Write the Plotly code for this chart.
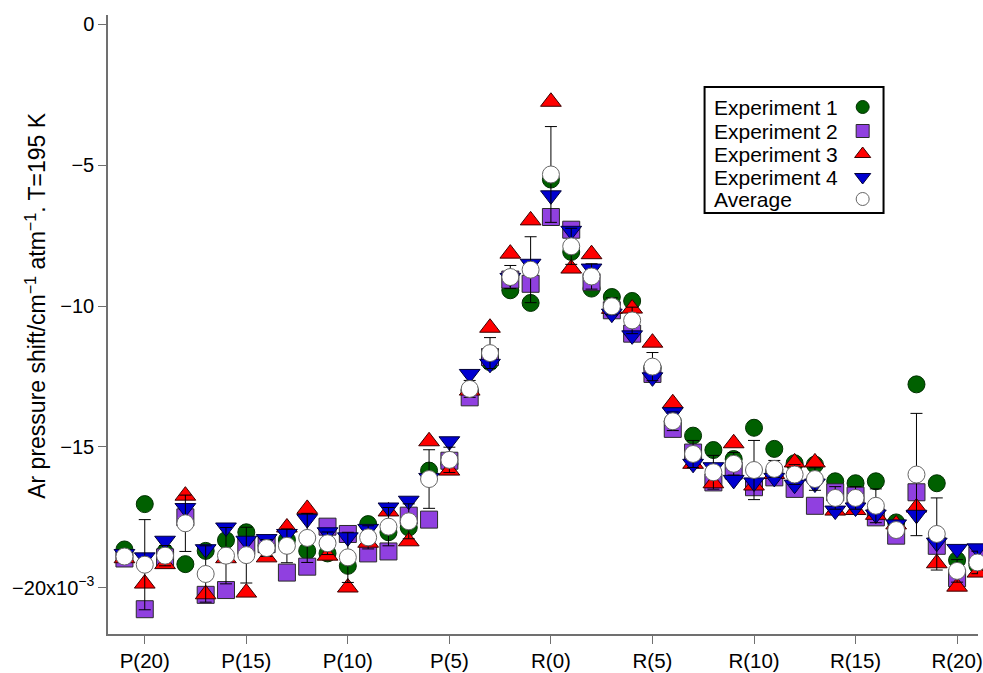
import plotly.graph_objects as go

# ---- data (values in units of 1e-3 cm^-1 atm^-1) ----
branch_labels = [f"P({j})" for j in range(21, 0, -1)] + [f"R({j})" for j in range(0, 22)]

exp1 = [-18.64, -17.03, -18.74, -19.16, -18.69, -18.31, -18.03, -18.50, -18.30, -18.69, -18.78,
        -19.22, -17.74, -18.03, -17.86, -15.84, -15.60, -13.00, -11.99, -9.44, -9.89,
        -5.51, -8.08, -9.38, -9.68, -9.82, -12.20, -14.10, -14.60, -15.11, -15.43, -14.32,
        -15.07, -15.58, -15.63, -16.22, -16.29, -16.22, -17.68, -12.78, -16.29, -19.02, -19.20]
exp2 = [-18.96, -20.76, -18.92, -17.50, -20.25, -20.08, -18.51, -18.45, -19.46, -19.25, -17.83,
        -18.09, -18.78, -18.71, -17.44, -17.58, -15.49, -13.24, -11.81, -9.06, -9.21,
        -6.84, -7.29, -9.15, -10.15, -10.98, -12.41, -14.36, -15.20, -16.26, -15.84, -16.43,
        -16.08, -16.49, -17.09, -16.61, -16.73, -17.50, -18.15, -16.61, -18.51, -19.66, -18.85]
exp3 = [-18.95, -19.85, -19.16, -16.73, -20.23, -18.95, -20.17, -18.92, -17.86, -17.20, -18.86,
        -19.99, -18.40, -17.29, -18.35, -14.80, -15.84, -13.00, -10.77, -8.14, -6.96,
        -2.75, -8.67, -8.16, -10.10, -10.09, -11.30, -13.45, -15.60, -16.29, -14.87, -16.37,
        -15.96, -15.55, -15.55, -17.26, -17.24, -17.41, -17.75, -17.15, -19.13, -19.96, -19.46]
exp4 = [-18.80, -18.92, -18.33, -17.17, -18.63, -17.86, -18.33, -18.27, -18.09, -17.56, -18.03,
        -18.21, -17.91, -17.15, -16.91, -16.10, -14.80, -12.41, -12.05, -9.00, -8.50,
        -6.07, -7.33, -8.67, -10.27, -11.04, -12.53, -13.77, -15.60, -15.72, -16.17, -16.26,
        -16.10, -16.34, -16.30, -17.26, -17.15, -17.40, -17.75, -17.41, -18.40, -18.62, -18.60]
average = [-18.89, -19.18, -18.86, -17.71, -19.51, -18.86, -18.84, -18.59, -18.51, -18.23, -18.42,
           -18.92, -18.21, -17.83, -17.64, -16.14, -15.46, -12.94, -11.67, -8.97, -8.71,
           -5.33, -7.88, -8.95, -10.01, -10.51, -12.15, -14.09, -15.25, -15.90, -15.60, -15.82,
           -15.78, -15.98, -16.14, -16.81, -16.81, -17.09, -17.95, -15.98, -18.09, -19.40, -19.10]
avg_err = [0.20, 1.60, 0.36, 1.00, 1.00, 1.00, 0.99, 0.30, 0.60, 0.87, 0.40,
           0.89, 0.41, 0.68, 0.62, 1.04, 0.45, 0.30, 0.55, 0.41, 1.17,
           1.70, 0.64, 0.45, 0.30, 0.47, 0.50, 0.33, 0.48, 0.60, 0.40, 1.05,
           0.30, 0.35, 0.40, 0.40, 0.40, 0.60, 0.20, 2.17, 1.28, 0.40, 0.40]

tick_branches = ["P(20)", "P(15)", "P(10)", "P(5)", "R(0)", "R(5)", "R(10)", "R(15)", "R(20)"]
y_tick_vals = [0, -5, -10, -15, -20]
y_tick_text = ["0", "\u22125", "\u221210", "\u221215", "\u221220x10<sup>\u22123</sup>"]
series_names = ["Experiment 1", "Experiment 2", "Experiment 3", "Experiment 4", "Average"]


def branch_to_m(lbl):
    j = int(lbl[2:-1])
    return -j if lbl[0] == "P" else j


m = [branch_to_m(b) for b in branch_labels]
tick_m = [branch_to_m(b) for b in tick_branches]

FONT = "Arial, 'Liberation Sans', sans-serif"
styles = [
    dict(symbol="circle", color="#006000", line=dict(color="#003000", width=1)),
    dict(symbol="square", color="#9040e0", line=dict(color="#2a2a2a", width=1)),
    dict(symbol="triangle-up", color="#ff0000", line=dict(color="#3a0000", width=1)),
    dict(symbol="triangle-down", color="#0000d0", line=dict(color="#00003a", width=1)),
    dict(symbol="circle", color="#ffffff", line=dict(color="#666666", width=1)),
]
sizes = [17, 17, 18, 18, 17]

fig = go.Figure()
for name, ys, st, sz in zip(series_names[:4], [exp1, exp2, exp3, exp4], styles[:4], sizes[:4]):
    fig.add_trace(go.Scatter(x=m, y=ys, mode="markers", name=name, cliponaxis=False,
                             marker=dict(size=sz, opacity=1, **st), showlegend=False))
fig.add_trace(go.Scatter(x=m, y=average, mode="markers", name="Average", cliponaxis=False,
                         marker=dict(size=sizes[4], opacity=1, **styles[4]), showlegend=False,
                         error_y=dict(type="data", array=avg_err, visible=True,
                                      color="#000000", thickness=1, width=6)))

# custom legend (text left, symbol right) on an overlay pixel-like axis
leg_rows = [107, 131, 154, 177, 199]
leg_sizes = [13, 13, 14, 14, 13]
for st, yy, sz in zip(styles, leg_rows, leg_sizes):
    fig.add_trace(go.Scatter(x=[867], y=[yy], mode="markers", xaxis="x2", yaxis="y2",
                             showlegend=False, hoverinfo="skip",
                             marker=dict(size=sz, opacity=1, symbol=st["symbol"], color=st["color"],
                                         line=dict(color=st["line"]["color"], width=1))))
for name, yy in zip(series_names, leg_rows):
    fig.add_annotation(x=715, y=yy, xref="x2", yref="y2", text=name, showarrow=False,
                       xanchor="left", yanchor="middle", font=dict(family=FONT, size=21, color="#000"))
fig.add_shape(type="rect", xref="x2", yref="y2", x0=708, x1=888, y0=87, y1=213,
              line=dict(color="#000", width=2), fillcolor="rgba(0,0,0,0)")

# y axis title
fig.add_annotation(x=-0.083, y=0.5315, xref="paper", yref="paper",
                   text="Ar pressure shift/cm<sup>\u22121</sup> atm<sup>\u22121</sup>. T=195 K",
                   showarrow=False, textangle=-90, xanchor="center", yanchor="middle",
                   font=dict(family=FONT, size=23, color="#000"))

axis_col = "#707070"
fig.update_layout(
    width=983, height=673,
    margin=dict(l=108, r=0, t=15, b=39),
    paper_bgcolor="white", plot_bgcolor="white",
    font=dict(family=FONT, color="#000"),
    xaxis=dict(range=[-21.81, 21.03], tickvals=tick_m, ticktext=tick_branches,
               showgrid=False, zeroline=False, showline=True, linecolor=axis_col, linewidth=1.5,
               ticks="outside", ticklen=8, tickcolor=axis_col, tickwidth=1,
               ticklabeloverflow="allow",
               tickfont=dict(family=FONT, size=20.5, color="#000"), mirror=False),
    yaxis=dict(range=[-21.64, 0.33], tickvals=y_tick_vals, ticktext=y_tick_text,
               showgrid=False, zeroline=False, showline=True, linecolor=axis_col, linewidth=1.5,
               ticks="outside", ticklen=8, tickcolor=axis_col, tickwidth=1,
               ticklabeloverflow="allow",
               tickfont=dict(family=FONT, size=20, color="#000")),
    xaxis2=dict(range=[108, 983], domain=[0, 1], overlaying="x", visible=False, anchor="y2"),
    yaxis2=dict(range=[634, 15], domain=[0, 1], overlaying="y", visible=False, anchor="x2"),
)

fig.write_html("out.html")
